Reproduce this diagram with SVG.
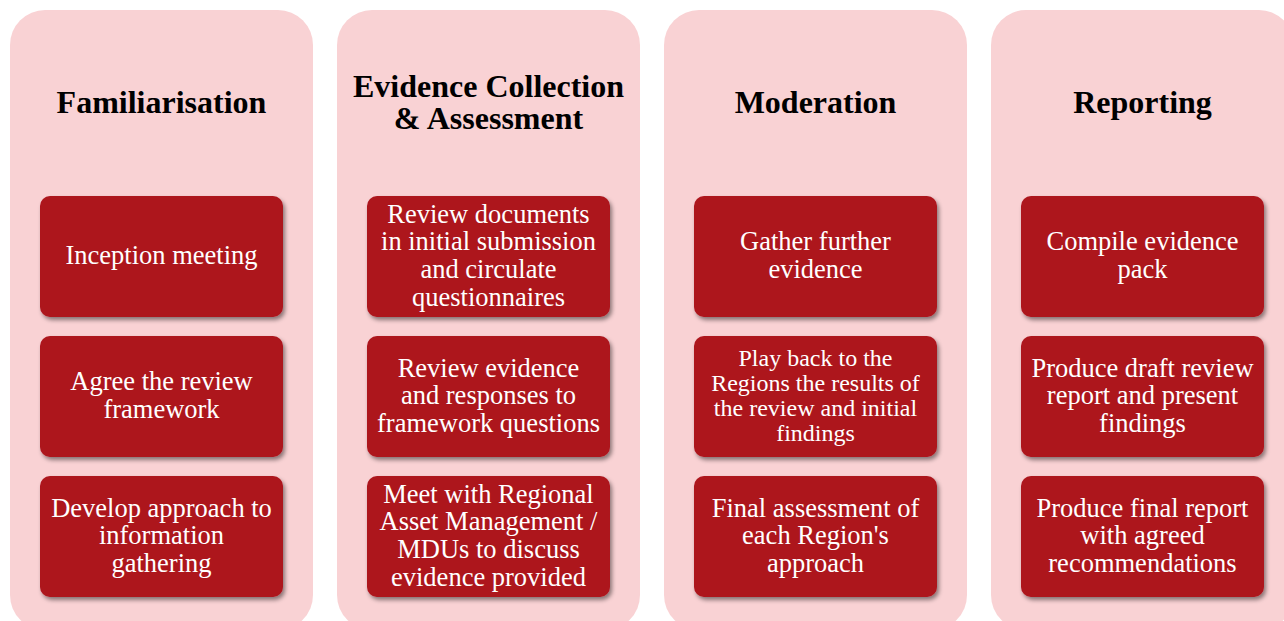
<svg xmlns="http://www.w3.org/2000/svg" width="1284" height="621" viewBox="0 0 1284 621">
<defs>
<style>
.col{fill:#f9d2d4;}
.box{fill:#ad141e;filter:url(#sh);}
.title{font-family:"Liberation Serif","Times New Roman",serif;font-weight:bold;font-size:32px;fill:#000;text-anchor:middle;}
.t{font-family:"Liberation Serif","Times New Roman",serif;font-size:26.5px;fill:#fff;text-anchor:middle;}
.ts{font-family:"Liberation Serif","Times New Roman",serif;font-size:24px;fill:#fff;text-anchor:middle;}
</style>
<filter id="sh" x="-10%" y="-10%" width="125%" height="130%">
<feDropShadow dx="2" dy="3" stdDeviation="2.2" flood-color="#000" flood-opacity="0.45"/>
</filter>
</defs>
<rect width="1284" height="621" fill="#fff"/>
<g id="col-familiarisation">
<rect class="col" x="10" y="10" width="303" height="620" rx="35"/>
<text class="title" x="161.5" y="113">Familiarisation</text>
<g id="n1-1"><rect class="box" x="40" y="196" width="243" height="121" rx="10"/><text class="t" x="161.5" y="264">Inception meeting</text></g>
<g id="n1-2"><rect class="box" x="40" y="336" width="243" height="121" rx="10"/><text class="t" x="161.5" y="390">Agree the review</text><text class="t" x="161.5" y="418">framework</text></g>
<g id="n1-3"><rect class="box" x="40" y="476" width="243" height="121" rx="10"/><text class="t" x="161.5" y="517">Develop approach to</text><text class="t" x="161.5" y="544">information</text><text class="t" x="161.5" y="572">gathering</text></g>
</g>
<g id="col-evidence">
<rect class="col" x="337" y="10" width="303" height="620" rx="35"/>
<text class="title" x="488.5" y="97">Evidence Collection</text>
<text class="title" x="488.5" y="129">&amp; Assessment</text>
<g id="n2-1"><rect class="box" x="367" y="196" width="243" height="121" rx="10"/><text class="t" x="488.5" y="223">Review documents</text><text class="t" x="488.5" y="250">in initial submission</text><text class="t" x="488.5" y="278">and circulate</text><text class="t" x="488.5" y="306">questionnaires</text></g>
<g id="n2-2"><rect class="box" x="367" y="336" width="243" height="121" rx="10"/><text class="t" x="488.5" y="377">Review evidence</text><text class="t" x="488.5" y="404">and responses to</text><text class="t" x="488.5" y="432">framework questions</text></g>
<g id="n2-3"><rect class="box" x="367" y="476" width="243" height="121" rx="10"/><text class="t" x="488.5" y="503">Meet with Regional</text><text class="t" x="488.5" y="530">Asset Management /</text><text class="t" x="488.5" y="558">MDUs to discuss</text><text class="t" x="488.5" y="586">evidence provided</text></g>
</g>
<g id="col-moderation">
<rect class="col" x="664" y="10" width="303" height="620" rx="35"/>
<text class="title" x="815.5" y="113">Moderation</text>
<g id="n3-1"><rect class="box" x="694" y="196" width="243" height="121" rx="10"/><text class="t" x="815.5" y="250">Gather further</text><text class="t" x="815.5" y="278">evidence</text></g>
<g id="n3-2"><rect class="box" x="694" y="336" width="243" height="121" rx="10"/><text class="ts" x="815.5" y="366">Play back to the</text><text class="ts" x="815.5" y="391">Regions the results of</text><text class="ts" x="815.5" y="416">the review and initial</text><text class="ts" x="815.5" y="441">findings</text></g>
<g id="n3-3"><rect class="box" x="694" y="476" width="243" height="121" rx="10"/><text class="t" x="815.5" y="517">Final assessment of</text><text class="t" x="815.5" y="544">each Region's</text><text class="t" x="815.5" y="572">approach</text></g>
</g>
<g id="col-reporting">
<rect class="col" x="991" y="10" width="303" height="620" rx="35"/>
<text class="title" x="1142.5" y="113">Reporting</text>
<g id="n4-1"><rect class="box" x="1021" y="196" width="243" height="121" rx="10"/><text class="t" x="1142.5" y="250">Compile evidence</text><text class="t" x="1142.5" y="278">pack</text></g>
<g id="n4-2"><rect class="box" x="1021" y="336" width="243" height="121" rx="10"/><text class="t" x="1142.5" y="377">Produce draft review</text><text class="t" x="1142.5" y="404">report and present</text><text class="t" x="1142.5" y="432">findings</text></g>
<g id="n4-3"><rect class="box" x="1021" y="476" width="243" height="121" rx="10"/><text class="t" x="1142.5" y="517">Produce final report</text><text class="t" x="1142.5" y="544">with agreed</text><text class="t" x="1142.5" y="572">recommendations</text></g>
</g>
<g id="connectors"/>
</svg>
